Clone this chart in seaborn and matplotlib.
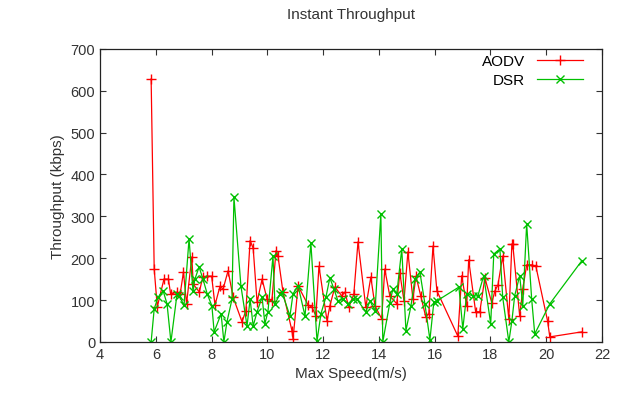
import numpy as np
import pandas as pd
import seaborn as sns
import matplotlib.pyplot as plt

# Values
aodv_speed = [5.83, 5.94, 6.05, 6.29, 6.45, 6.53, 6.75, 6.87, 6.99, 7.1, 7.29, 7.34, 7.56, 7.68,
              7.82, 8.0, 8.12, 8.3, 8.41, 8.59, 8.77, 9.09, 9.23, 9.38, 9.49, 9.63, 9.81, 9.99,
              10.16, 10.31, 10.38, 10.56, 10.88, 10.92, 11.1, 11.46, 11.6, 11.74, 11.85, 12.14,
              12.24, 12.42, 12.67, 12.78, 12.92, 13.1, 13.25, 13.53, 13.71, 13.86, 14.1, 14.21,
              14.39, 14.64, 14.75, 14.9, 15.04, 15.22, 15.33, 15.5, 15.68, 15.79, 15.94, 16.08,
              16.83, 16.97, 17.15, 17.22, 17.47, 17.62, 17.8, 18.05, 18.16, 18.27, 18.44, 18.66,
              18.77, 18.8, 19.05, 19.16, 19.3, 19.48, 19.63, 20.05, 20.13, 21.28]
aodv_tput = [628, 174, 84, 150, 150, 114, 119, 114, 167, 91, 203, 138, 119, 155,
             157, 157, 88, 133, 126, 170, 107, 48, 75, 242, 224, 95, 150, 102,
             98, 218, 205, 119, 27, 7, 134, 88, 83, 62, 181, 50,
             86, 131, 110, 119, 83, 114, 239, 83, 155, 86, 55, 174,
             110, 91, 165, 98, 215, 102, 157, 110, 60, 67, 229, 122,
             14, 158, 86, 196, 72, 72, 153, 93, 122, 136, 205, 55,
             234, 234, 62, 126, 184, 184, 181, 50, 12, 24]

dsr_speed = [5.83, 5.94, 6.08, 6.26, 6.4, 6.54, 6.76, 6.83, 7.01, 7.19, 7.33, 7.4, 7.55, 7.69,
             7.84, 8.01, 8.09, 8.34, 8.44, 8.55, 8.73, 8.8, 9.05, 9.27, 9.38, 9.49, 9.63, 9.81,
             9.91, 10.02, 10.2, 10.27, 10.45, 10.52, 10.81, 10.92, 11.1, 11.35, 11.56, 11.78,
             11.92, 12.1, 12.24, 12.39, 12.53, 12.71, 12.89, 13.07, 13.21, 13.53, 13.68, 13.86,
             14.07, 14.14, 14.39, 14.5, 14.64, 14.82, 14.97, 15.15, 15.29, 15.47, 15.65, 15.83,
             15.97, 16.08, 16.87, 17.01, 17.15, 17.37, 17.55, 17.76, 18.01, 18.12, 18.34, 18.44,
             18.66, 18.77, 18.87, 19.05, 19.16, 19.3, 19.48, 19.59, 20.13, 21.28]
dsr_tput = [0, 79, 107, 122, 91, 0, 115, 110, 88, 246, 122, 150, 179, 150,
            115, 86, 24, 67, 0, 48, 102, 346, 134, 38, 102, 38, 72, 107,
            43, 72, 205, 91, 114, 119, 62, 115, 134, 62, 236, 2,
            67, 107, 153, 126, 98, 102, 91, 102, 102, 72, 98, 74,
            306, 0, 93, 126, 114, 222, 27, 86, 150, 167, 91, 5,
            95, 98, 131, 31, 115, 110, 110, 158, 43, 210, 222, 107,
            0, 50, 110, 158, 86, 282, 102, 19, 91, 194]

plt.rcParams['font.family'] = ['Liberation Sans', 'DejaVu Sans']

fig = plt.figure(figsize=(6.18, 4.02), dpi=100)
ax = fig.add_axes([0.162, 0.147, 0.812, 0.729])

sns.lineplot(x=aodv_speed, y=aodv_tput, ax=ax, color='#ff0000', marker='+',
             markersize=7, markeredgewidth=1, markeredgecolor='#ff0000', linewidth=0.9,
             estimator=None, sort=False, label='AODV')
sns.lineplot(x=dsr_speed, y=dsr_tput, ax=ax, color='#00c000', marker='x',
             markersize=5.5, markeredgewidth=1, markeredgecolor='#00c000', linewidth=0.9,
             estimator=None, sort=False, label='DSR')

ax.set_xlim(4, 22)
ax.set_ylim(0, 700)
ax.set_xticks(np.arange(4, 23, 2))
ax.set_yticks(np.arange(0, 701, 100))
ax.tick_params(direction='in', top=True, right=True, labelsize=10.5, colors='#333333',
               length=4)
for s in ax.spines.values():
    s.set_color('#222222')
    s.set_linewidth(0.9)

ax.set_xlabel('Max Speed(m/s)', fontsize=11, color='#333333')
ax.set_ylabel('Throughput (kbps)', fontsize=11, color='#333333')
ax.set_title('Instant Throughput', fontsize=11, color='#333333', pad=22)

ax.legend(loc='upper right', bbox_to_anchor=(0.974, 1.003), frameon=False,
          markerfirst=False, fontsize=11, handlelength=3.0, borderaxespad=0,
          labelspacing=0.35)

fig.savefig('out.png', dpi=100)
